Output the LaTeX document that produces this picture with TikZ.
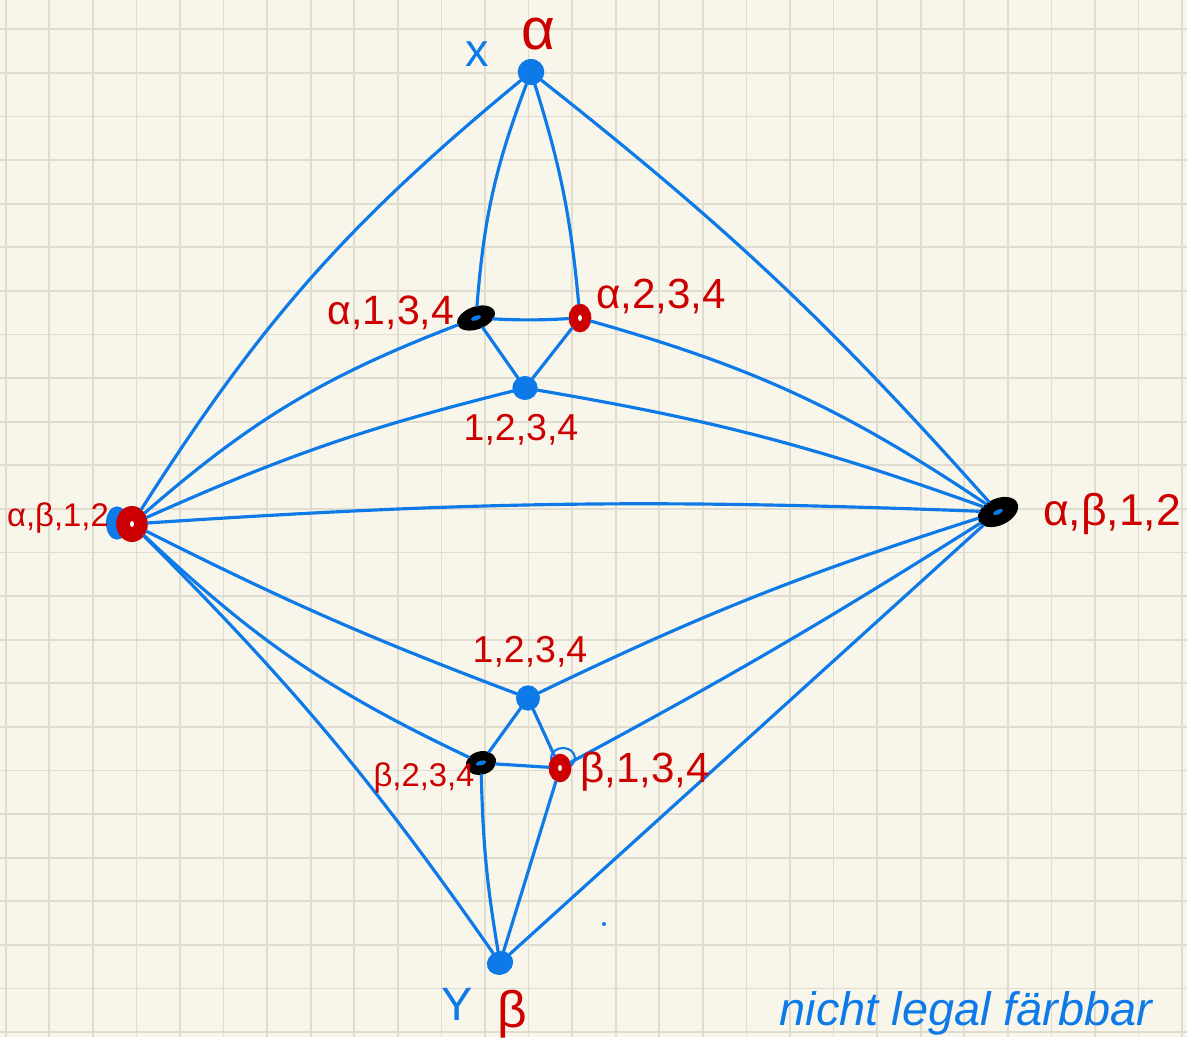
\documentclass[tikz,border=0pt]{standalone}
\usepackage{fontspec}
\setmainfont{Liberation Sans}
\usetikzlibrary{shapes.geometric}
\definecolor{paper}{RGB}{248,246,234}
\definecolor{gridc}{RGB}{224,221,208}
\definecolor{ink}{RGB}{14,122,232}
\definecolor{redink}{RGB}{204,0,0}
\tikzset{
  edge/.style={draw=ink, line width=2.7pt, line cap=round},
  gridline/.style={draw=gridc, line width=1.4pt},
  bnode/.style={ellipse, fill=ink, inner sep=0pt, minimum width=0.76cm, minimum height=0.72cm},
  knode/.style={ellipse, fill=black, inner sep=0pt, minimum width=1.18cm, minimum height=0.68cm,
    path picture={\fill[ink] (path picture bounding box.center) ellipse (0.16cm and 0.07cm);}},
  rnode/.style={ellipse, fill=redink, inner sep=0pt, minimum width=0.68cm, minimum height=0.86cm,
    path picture={\fill[white] (path picture bounding box.center) ellipse (0.06cm and 0.09cm);}},
  lab/.style={text=redink, inner sep=0pt},
  blab/.style={text=ink, inner sep=0pt},
}
\begin{document}
\begin{tikzpicture}[x=0.03cm,y=-0.03cm]
\useasboundingbox (0,0) rectangle (1187,1037);
\fill[paper] (0,0) rectangle (1187,1037);
\foreach \i in {0,...,27} \draw[gridline] ({5.7+43.57*\i},0) -- ({5.7+43.57*\i},1037);
\foreach \j in {-1,...,23} \draw[gridline] (0,{29.3+43.6*\j}) -- (1187,{29.3+43.6*\j});

% nodes
\node[bnode, minimum width=0.8cm, minimum height=0.78cm] (A) at (531,72) {};
\node[knode, rotate=20] (a134) at (476,318) {};
\node[rnode] (a234) at (580,318) {};
\node[bnode] (t1234) at (525,388) {};
\fill[ink] (117,523) ellipse (0.33cm and 0.5cm);
\node[rnode, minimum width=0.95cm, minimum height=1.08cm] (L) at (132,524) {};
\node[knode, rotate=25, minimum width=1.28cm, minimum height=0.8cm] (R) at (998,512) {};
\node[bnode, minimum width=0.72cm, minimum height=0.76cm] (b1234) at (528,698) {};
\node[knode, rotate=15, minimum width=0.92cm, minimum height=0.7cm] (b234) at (481,763) {};
\draw[ink, line width=1.8pt] (563,758) ellipse (0.36cm and 0.3cm);
\node[rnode] (b134) at (560,768) {};
\node[bnode, minimum width=0.8cm, minimum height=0.7cm, rotate=20] (B) at (500,963) {};
\fill[ink] (604,924) circle (0.06cm);

% edges top
\draw[edge] (A) to[bend right=9] (L);
\draw[edge] (A) to[bend left=5] (R);
\draw[edge] (A) to[bend right=8] (a134);
\draw[edge] (A) to[bend left=6] (a234);
\draw[edge] (a134) to[bend right=3] (a234);
\draw[edge] (a134) -- (t1234);
\draw[edge] (a234) -- (t1234);
\draw[edge] (a134) to[bend right=10] (L);
\draw[edge] (a234) to[bend left=9] (R);
\draw[edge] (t1234) to[bend right=5] (L);
\draw[edge] (t1234) to[bend left=5] (R);
\draw[edge] (L) to[bend left=3] (R);
% edges bottom
\draw[edge] (L) to[bend left=5] (B);
\draw[edge] (L) to[bend right=9] (b234);
\draw[edge] (L) to[bend right=3] (b1234);
\draw[edge] (R) to[bend right=4] (b1234);
\draw[edge] (R) to[bend left=2] (b134);
\draw[edge] (R) -- (B);
\draw[edge] (B) to[bend left=4] (b234);
\draw[edge] (B) -- (b134);
\draw[edge] (b234) -- (b134);
\draw[edge] (b234) -- (b1234);
\draw[edge] (b134) -- (b1234);

% labels
\node[blab, font=\fontsize{40}{44}\selectfont] (lx) at (477,54) {x};
\node[lab, font=\fontsize{50}{54}\selectfont] (lalpha) at (538,34) {α};
\node[lab, font=\fontsize{35}{40}\selectfont] (la134) at (391,313) {α,1,3,4};
\node[lab, font=\fontsize{36}{40}\selectfont] (la234) at (661,296) {α,2,3,4};
\node[lab, font=\fontsize{32}{36}\selectfont] (lt1234) at (521,430) {1,2,3,4};
\node[lab, font=\fontsize{28}{32}\selectfont] (lL) at (58,518) {α,β,1,2};
\node[lab, font=\fontsize{38}{42}\selectfont] (lR) at (1112,514) {α,β,1,2};
\node[lab, font=\fontsize{32}{36}\selectfont] (lb1234) at (530,652) {1,2,3,4};
\node[lab, font=\fontsize{28}{32}\selectfont] (lb234) at (424,778) {β,2,3,4};
\node[lab, font=\fontsize{36}{40}\selectfont] (lb134) at (645,772) {β,1,3,4};
\node[blab, font=\fontsize{40}{44}\selectfont] (ly) at (457,1004) {Y};
\node[lab, font=\fontsize{44}{48}\selectfont] (lbeta) at (512,1014) {β};
\node[blab, font=\fontsize{40}{44}\selectfont\itshape] (note) at (966,1013) {nicht legal färbbar};
\end{tikzpicture}
\end{document}
